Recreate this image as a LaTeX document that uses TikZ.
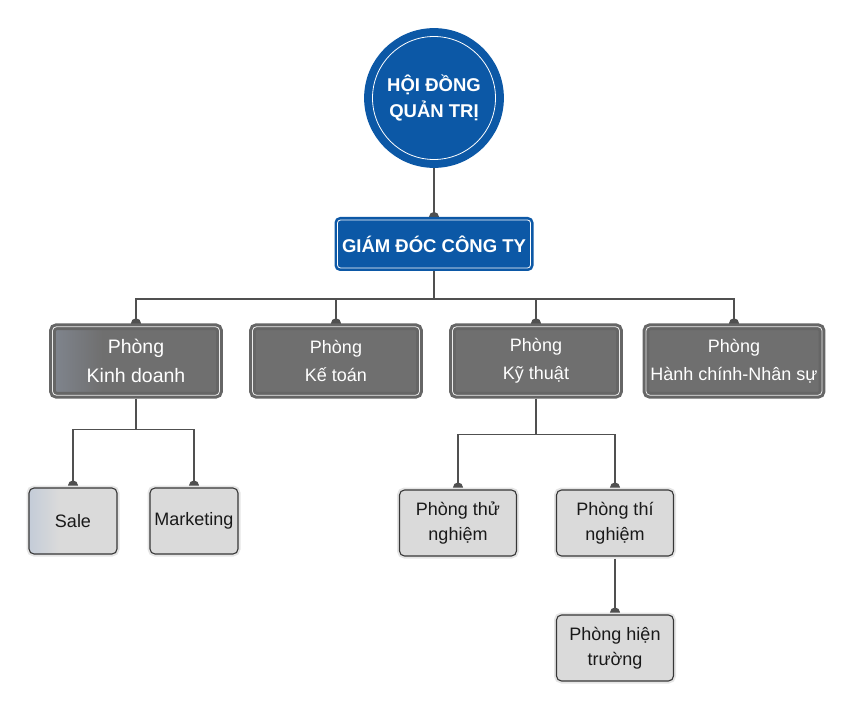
\documentclass[tikz,border=0pt]{standalone}
\usepackage{fontspec}
\setmainfont{Liberation Sans}
\usetikzlibrary{arrows.meta, positioning, backgrounds}

\definecolor{boardblue}{RGB}{12,88,166}
\definecolor{deptgray}{RGB}{111,111,111}
\definecolor{deptedge}{RGB}{102,102,102}
\definecolor{teamfill}{RGB}{218,218,218}
\definecolor{teamedge}{RGB}{55,55,55}
\definecolor{linkgray}{RGB}{80,80,80}
\definecolor{saleleft}{RGB}{196,204,216}
\definecolor{kdleft}{RGB}{128,133,142}

\pgfdeclarehorizontalshading{salefade}{100bp}{color(0bp)=(saleleft); color(25bp)=(saleleft); color(42bp)=(teamfill); color(100bp)=(teamfill)}
\pgfdeclarehorizontalshading{kdfade}{100bp}{color(0bp)=(kdleft); color(25bp)=(kdleft); color(40bp)=(deptgray); color(100bp)=(deptgray)}

\begin{document}
\begin{tikzpicture}[
    on grid,
    board/.style={circle, fill=boardblue, draw=boardblue, line width=8pt, double=white, double distance=0.8pt, minimum size=123pt, inner sep=0pt, text=white, font=\bfseries\fontsize{18.5}{26}\selectfont, align=center},
    director/.style={rectangle, rounded corners=3pt, fill=boardblue, draw=boardblue, line width=2.6pt, double=white, double distance=0.8pt, minimum width=193pt, minimum height=48pt, outer sep=3pt, inner xsep=1pt, text=white, font=\bfseries\fontsize{18.5}{22}\selectfont},
    dept/.style={rectangle, rounded corners=4pt, fill=deptgray, draw=deptedge, line width=3pt, double=white!85!gray, double distance=0.8pt, minimum width=167pt, minimum height=68.5pt, outer sep=3.4pt, inner xsep=1pt, text=white, align=center, font=\fontsize{18}{28}\selectfont},
    team/.style={rectangle, rounded corners=5pt, fill=teamfill, draw=teamedge, line width=1.1pt, preaction={draw=black!10, line width=5pt}, minimum width=117pt, minimum height=66pt, outer sep=2.5pt, inner xsep=1pt, text=black!90, align=center, font=\fontsize{18}{25}\selectfont},
    link/.style={draw=linkgray, line width=1.5pt, -{Circle[length=10pt]}, shorten >=-5pt}
]
\useasboundingbox (0,0) rectangle (844pt,-727pt);

% Nodes
\node[board] (hdqt) at (434pt,-98pt) {HỘI ĐỒNG\\QUẢN TRỊ};

\node[director, below=146pt of hdqt] (gd) {GIÁM ĐÓC CÔNG TY};

\node[dept, below left=117pt and 98pt of gd] (kt) {Phòng\\Kế toán};
\node[dept, left=200pt of kt, shading=kdfade, font=\fontsize{19.5}{29}\selectfont] (kd) {Phòng\\Kinh doanh};
\node[dept, right=200pt of kt] (kyt) {Phòng\\Kỹ thuật};
\node[dept, right=198pt of kyt, minimum width=176pt] (hcns) {Phòng\\Hành chính-Nhân sự};

\node[team, below left=160pt and 63pt of kd, minimum width=88pt, shading=salefade] (sale) {Sale};
\node[team, right=121pt of sale, minimum width=88pt] (mkt) {Marketing};

\node[team, below left=162pt and 78pt of kyt] (thu) {Phòng thử\\nghiệm};
\node[team, right=157pt of thu] (thi) {Phòng thí\\nghiệm};
\node[team, below=125pt of thi] (hien) {Phòng hiện\\trường};

% Connectors
\begin{pgfonlayer}{background}
\draw[link] (hdqt.south) -- (gd.north);
\foreach \d in {kd,kt,kyt,hcns}
    \draw[link] (gd.south) -- ++(0,-28pt) -| (\d.north);
\foreach \t in {sale,mkt}
    \draw[link] (kd.south) -- ++(0,-31pt) -| (\t.north);
\foreach \t in {thu,thi}
    \draw[link] (kyt.south) -- ++(0,-36pt) -| (\t.north);
\draw[link] (thi.south) -- (hien.north);
\end{pgfonlayer}

\end{tikzpicture}
\end{document}
